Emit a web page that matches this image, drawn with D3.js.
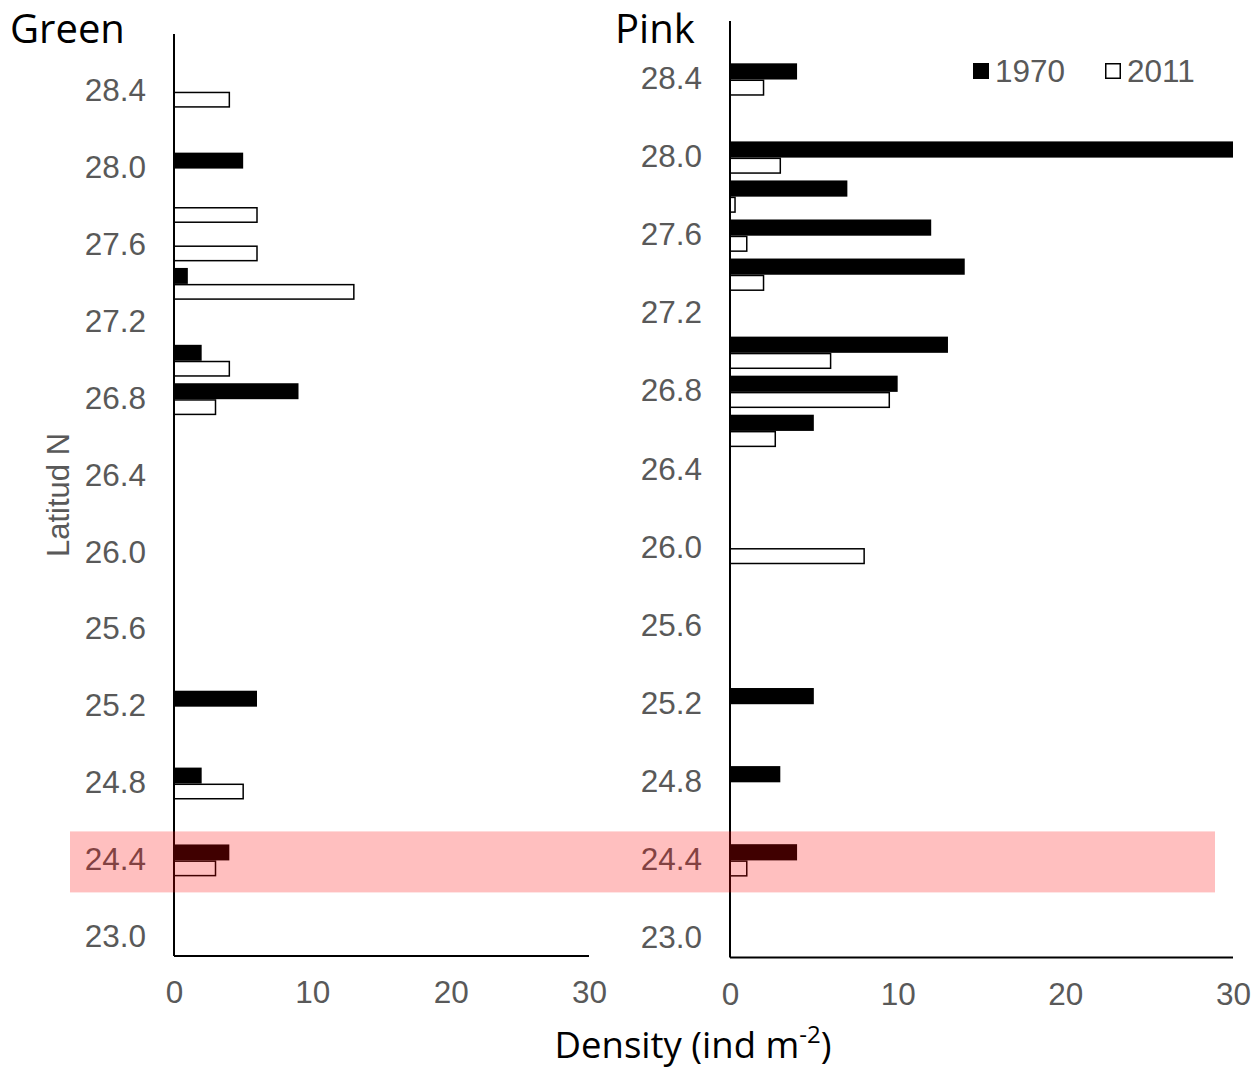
<!DOCTYPE html>
<html>
<head>
<meta charset="utf-8">
<script src="https://cdn.jsdelivr.net/npm/d3@7"></script>
<style>
  html, body { margin: 0; padding: 0; background: #fff; }
  svg { display: block; }
  .tick text { font-family: "Liberation Sans", Arial, sans-serif; font-size: 31.5px; fill: #595959; }
</style>
</head>
<body>
<svg id="chart" width="1252" height="1071"></svg>
<script>
// Latitude classes (every other one is labelled on the axis)
const latitudes = ["28.4","28.2","28.0","27.8","27.6","27.4","27.2","27.0","26.8","26.6","26.4",
                   "26.2","26.0","25.8","25.6","25.4","25.2","25.0","24.8","24.6","24.4","24.2","23.0"];
const latitudeTicks = ["28.4","28.0","27.6","27.2","26.8","26.4","26.0","25.6","25.2","24.8","24.4","23.0"];
const highlightedLatitude = "24.4";

// Density (ind m-2) per latitude class, null = no record
const green1970 = [null,null,5,null,null,1,null,2,9,null,null,null,null,null,null,null,6,null,2,null,4,null,null];
const green2011 = [4,null,null,6,6,13,null,4,3,null,null,null,null,null,null,null,null,null,5,null,3,null,null];
const pink1970  = [4,null,30,7,12,14,null,13,10,5,null,null,null,null,null,null,5,null,3,null,4,null,null];
const pink2011  = [2,null,3,0.3,1,2,null,6,9.5,2.7,null,null,8,null,null,null,null,null,null,null,1,null,null];

const densityTicks = [0, 10, 20, 30];
const years = ["1970", "2011"];

const svg = d3.select("#chart");
const FONT_LABEL = '"Liberation Sans", Arial, sans-serif';
const FONT_TITLE = '"Open Sans", sans-serif';
const GREY = "#595959";

const panels = [
  { title: "Green", s1970: green1970, s2011: green2011,
    x0: 174, x1: 589, yTop: 72, yBottom: 956, axisTop: 34, titleX: 10, titleY: 43 },
  { title: "Pink", s1970: pink1970, s2011: pink2011,
    x0: 730, x1: 1233, yTop: 59.5, yBottom: 957.5, axisTop: 21, titleX: 615, titleY: 43 }
];

const scales = [];

panels.forEach(p => {
  const g = svg.append("g");

  const x = d3.scaleLinear().domain([0, 30]).range([p.x0, p.x1]);
  const y = d3.scaleBand().domain(latitudes).range([p.yTop, p.yBottom])
              .paddingInner(0.17).paddingOuter(0.085);
  const ySub = d3.scaleBand().domain(years).range([0, y.bandwidth()]);
  scales.push({ x, y });

  const rows = latitudes.map((lat, i) => ({ lat, v1970: p.s1970[i], v2011: p.s2011[i] }));

  // 1970 bars (filled)
  g.append("g").selectAll("rect")
    .data(rows.filter(d => d.v1970 != null))
    .join("rect")
    .attr("x", x(0))
    .attr("y", d => y(d.lat) + ySub("1970") + 0.5)
    .attr("width", d => x(d.v1970) - x(0))
    .attr("height", ySub.bandwidth())
    .attr("fill", "#000");

  // 2011 bars (outlined)
  g.append("g").selectAll("rect")
    .data(rows.filter(d => d.v2011 != null))
    .join("rect")
    .attr("x", x(0))
    .attr("y", d => y(d.lat) + ySub("2011") + 1.25)
    .attr("width", d => x(d.v2011) - x(0))
    .attr("height", ySub.bandwidth() - 1.5)
    .attr("fill", "#fff")
    .attr("stroke", "#000")
    .attr("stroke-width", 1.5);

  // Y axis labels
  const yAxis = g.append("g")
    .attr("transform", `translate(${p.x0},0)`)
    .call(d3.axisLeft(y).tickValues(latitudeTicks).tickSize(0).tickPadding(28));
  yAxis.select(".domain").remove();

  // X axis labels
  const xAxis = g.append("g")
    .attr("transform", `translate(0,${p.yBottom})`)
    .call(d3.axisBottom(x).tickValues(densityTicks).tickFormat(d3.format("d")).tickSize(0).tickPadding(25));
  xAxis.select(".domain").remove();

  // Axis lines
  g.append("line")
    .attr("x1", p.x0).attr("x2", p.x0)
    .attr("y1", p.axisTop).attr("y2", p.yBottom)
    .attr("stroke", "#000").attr("stroke-width", 2);
  g.append("line")
    .attr("x1", p.x0).attr("x2", p.x1)
    .attr("y1", p.yBottom).attr("y2", p.yBottom)
    .attr("stroke", "#000").attr("stroke-width", 2);

  // Panel title
  svg.append("text")
    .attr("x", p.titleX).attr("y", p.titleY)
    .attr("font-family", FONT_TITLE).attr("font-size", 40)
    .attr("fill", "#000")
    .text(p.title);
});

// Axis titles
svg.append("text")
  .attr("transform", "translate(69,495) rotate(-90)")
  .attr("text-anchor", "middle")
  .attr("font-family", FONT_LABEL).attr("font-size", 31)
  .attr("fill", GREY)
  .text("Latitud N");

const xt = svg.append("text")
  .attr("x", 693).attr("y", 1058)
  .attr("text-anchor", "middle")
  .attr("font-family", FONT_TITLE).attr("font-size", 36.5)
  .attr("fill", "#000");
xt.append("tspan").text("Density (ind m");
xt.append("tspan").attr("dy", -15).attr("font-size", 24).text("-2");
xt.append("tspan").attr("dy", 15).text(")");

// Legend
const legend = svg.append("g").attr("font-family", FONT_LABEL).attr("font-size", 31.5).attr("fill", GREY);
const legendItems = [
  { year: "1970", x: 973, fill: "#000" },
  { year: "2011", x: 1105, fill: "#fff" }
];
legendItems.forEach(it => {
  legend.append("rect")
    .attr("x", it.x + 0.75).attr("y", 63.75)
    .attr("width", 14.5).attr("height", 14.5)
    .attr("fill", it.fill).attr("stroke", "#000").attr("stroke-width", 1.5);
  legend.append("text")
    .attr("x", it.x + 22).attr("y", 71).attr("dy", "0.36em")
    .text(it.year);
});

// Highlight band across both panels at the southern station
const yl = scales[0].y;
const cy = yl(highlightedLatitude) + yl.bandwidth() / 2 + 2;
svg.append("rect")
  .attr("x", 70).attr("width", 1215 - 70)
  .attr("y", cy - 30.5).attr("height", 61)
  .attr("fill", "rgba(255,0,0,0.25)");
</script>
</body>
</html>
